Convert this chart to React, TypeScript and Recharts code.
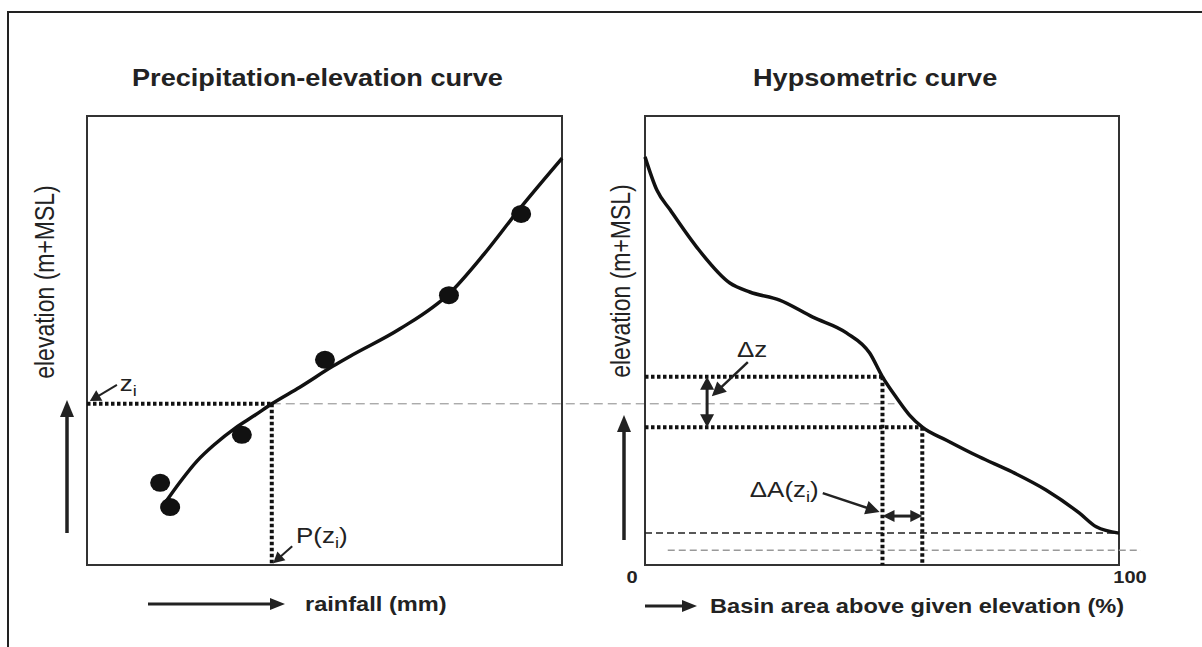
import React from "react";
import {
  ComposedChart,
  Line,
  Scatter,
  XAxis,
  YAxis,
  ReferenceLine,
  ReferenceDot,
  ReferenceArea,
} from "recharts";

const W = 1202;
const H = 647;
const SX = 1.18; // the source picture is stretched sideways
const FONT = '"Liberation Sans", Arial, sans-serif';
const INK = "#222";

// precipitation-elevation curve (both axes in % of the box)
const rainCurveX = [16.4, 19.6, 23.2, 26.9, 31.2, 35.4, 38.9, 44.8, 51.8, 55.4, 65.9, 76.4, 83.4, 91.2, 100];
const rainCurveY = [13.8, 18.5, 23.2, 26.9, 30.5, 33.4, 35.9, 39.6, 44.3, 46.5, 52.6, 60.6, 69.0, 79.5, 90.6];
const gaugeX = [15.4, 17.5, 32.6, 50.1, 76.2, 91.4];
const gaugeY = [18.3, 12.9, 29.0, 45.7, 60.1, 78.2];
const zi = 35.9;
const pzi = 38.9;

// hypsometric curve
const hypsoArea = [0, 2.5, 5.3, 10.9, 17.9, 22.1, 28.4, 35.4, 42.5, 47.4, 50.1, 53.1, 55.8, 58.5, 63.6, 70.5, 77.5, 84.6, 91.6, 95.2, 100];
const hypsoElev = [90.9, 83.5, 79.1, 70.8, 62.8, 60.8, 59.0, 55.2, 51.7, 47.2, 41.9, 37.2, 33.4, 30.7, 27.8, 24.1, 20.7, 16.7, 11.6, 8.5, 7.1];
const zTop = 41.9;
const zBot = 30.7;
const aTop = 50.1;
const aBot = 58.5;
const elevMin = 7.1;
const lowLine = 3.3;
const areaTicks = [0, 100];

const rainCurve = rainCurveX.map((x, i) => ({ x, y: rainCurveY[i] }));
const gauges = gaugeX.map((x, i) => ({ x, y: gaugeY[i] }));
const hypso = hypsoArea.map((x, i) => ({ x, y: hypsoElev[i] }));

function head(tx: number, ty: number, ang: number, len: number, half: number) {
  const bx = tx - len * Math.cos(ang);
  const by = ty - len * Math.sin(ang);
  const nx = -Math.sin(ang) * half;
  const ny = Math.cos(ang) * half;
  return `${tx},${ty} ${bx + nx},${by + ny} ${bx - nx},${by - ny}`;
}

function Arrow({ x1, y1, x2, y2, both = false, len = 12, half = 6, width = 2.5 }: any) {
  const ang = Math.atan2(y2 - y1, x2 - x1);
  const c = Math.cos(ang) * len * 0.7;
  const s = Math.sin(ang) * len * 0.7;
  return (
    <g>
      <line
        x1={both ? x1 + c : x1}
        y1={both ? y1 + s : y1}
        x2={x2 - c}
        y2={y2 - s}
        stroke={INK}
        strokeWidth={width}
      />
      <polygon points={head(x2, y2, ang, len, half)} fill={INK} />
      {both && <polygon points={head(x1, y1, ang + Math.PI, len, half)} fill={INK} />}
    </g>
  );
}

const arrowShape = (opts: any) => (p: any) => (
  <Arrow x1={p.x1} y1={p.y1} x2={p.x2} y2={p.y2} {...opts} />
);

const note = (main: string, sub?: string, tail?: string, size = 22) => (p: any) => (
  <text
    transform={`translate(${p.cx},${p.cy}) scale(${SX},1)`}
    fontSize={size}
    fontFamily={FONT}
    fill={INK}
  >
    {main}
    {sub && (
      <tspan dy={5} fontSize={size * 0.7}>
        {sub}
      </tspan>
    )}
    {tail && <tspan dy={-5}>{tail}</tspan>}
  </text>
);

const gaugeDot = (p: any) => <ellipse cx={p.cx} cy={p.cy} rx={10} ry={9} fill="#111" />;

const elevLabel = (tx: number, ty: number, ax: number, ay1: number, ay2: number) => (p: any) => {
  const vb = p.viewBox;
  const right = vb.x + vb.width;
  return (
    <g>
      <text
        transform={`translate(${right + tx},${vb.y + ty}) rotate(-90) scale(1,${SX})`}
        textAnchor="middle"
        fontSize={23}
        fontFamily={FONT}
        fill={INK}
      >
        elevation (m+MSL)
      </text>
      <Arrow x1={right + ax} y1={vb.y + ay1} x2={right + ax} y2={vb.y + ay2} len={17} half={7} width={3.5} />
    </g>
  );
};

const xLabel = (text: string, a1: number, a2: number, tx: number, dy: number) => (p: any) => {
  const vb = p.viewBox;
  return (
    <g>
      <Arrow x1={vb.x + a1} y1={vb.y + dy} x2={vb.x + a2} y2={vb.y + dy} len={15} half={6} width={3} />
      <text
        transform={`translate(${vb.x + tx},${vb.y + dy + 7}) scale(${SX},1)`}
        fontSize={20}
        fontWeight="bold"
        fontFamily={FONT}
        fill={INK}
      >
        {text}
      </text>
    </g>
  );
};

const AreaTick = (p: any) => (
  <text
    transform={`translate(${p.x + (p.payload.value === 0 ? -13 : 11)},${p.y + 18}) scale(${SX},1)`}
    textAnchor="middle"
    fontSize={17}
    fontWeight="bold"
    fontFamily={FONT}
    fill={INK}
  >
    {p.payload.value}
  </text>
);

const dotted = { stroke: "#111", strokeWidth: 4, strokeDasharray: "3.5 2.5", ifOverflow: "visible" as const };

export default function App() {
  return (
    <div style={{ position: "absolute", left: 0, top: 0, width: W, height: H, background: "#fff", overflow: "hidden" }}>
      <svg width={W} height={H} style={{ position: "absolute", left: 0, top: 0 }}>
        <rect x={8} y={12} width={1400} height={900} fill="none" stroke={INK} strokeWidth={2} />
        <text transform={`translate(132,86) scale(${SX},1)`} fontSize={23} fontWeight="bold" fontFamily={FONT} fill={INK}>
          Precipitation-elevation curve
        </text>
        <text transform={`translate(753,86) scale(${SX},1)`} fontSize={23} fontWeight="bold" fontFamily={FONT} fill={INK}>
          Hypsometric curve
        </text>
      </svg>

      <div style={{ position: "absolute", left: 0, top: 0 }}>
        <ComposedChart width={W} height={H} margin={{ top: 116, right: 640, bottom: 0, left: 0 }}>
          <XAxis dataKey="x" type="number" domain={[0, 100]} tick={false} tickLine={false} axisLine={false} height={82}
            label={xLabel("rainfall (mm)", 61, 198, 218, 39)} />
          <YAxis dataKey="y" type="number" domain={[0, 100]} tick={false} tickLine={false} axisLine={false} width={87}
            label={elevLabel(-33, 166, -20, 417, 284)} />
          <ReferenceArea x1={0} x2={100} y1={0} y2={100} fill="none" stroke="#333" strokeWidth={2} ifOverflow="visible" />
          <ReferenceLine segment={[{ x: pzi, y: zi }, { x: 170, y: zi }]} stroke="#888" strokeWidth={1} strokeDasharray="9 5" ifOverflow="visible" />
          <ReferenceLine segment={[{ x: 0, y: zi }, { x: pzi, y: zi }]} {...dotted} />
          <ReferenceLine segment={[{ x: pzi, y: zi }, { x: pzi, y: 0 }]} {...dotted} />
          <ReferenceLine segment={[{ x: 6.3, y: 40.1 }, { x: 0.6, y: 36.5 }]} shape={arrowShape({ len: 11, half: 6, width: 2 })} ifOverflow="visible" />
          <ReferenceLine segment={[{ x: 43.2, y: 4.2 }, { x: 39.2, y: 0.4 }]} shape={arrowShape({ len: 11, half: 6, width: 2 })} ifOverflow="visible" />
          <ReferenceDot x={6.9} y={38.8} r={0} shape={note("z", "i", undefined, 22)} ifOverflow="visible" />
          <ReferenceDot x={44.0} y={4.9} r={0} shape={note("P(z", "i", ")", 22)} ifOverflow="visible" />
          <Line data={rainCurve} dataKey="y" type="monotone" stroke="#111" strokeWidth={3.5} dot={false} isAnimationActive={false} />
          <Scatter data={gauges} shape={gaugeDot} isAnimationActive={false} />
        </ComposedChart>
      </div>

      <div style={{ position: "absolute", left: 0, top: 0 }}>
        <ComposedChart width={W} height={H} margin={{ top: 116, right: 83, bottom: 0, left: 0 }}>
          <XAxis dataKey="x" type="number" domain={[0, 100]} ticks={areaTicks} tick={AreaTick} tickLine={false} tickSize={0} tickMargin={0}
            axisLine={false} height={82} label={xLabel("Basin area above given elevation (%)", 0, 52, 65, 41)} />
          <YAxis dataKey="y" type="number" domain={[0, 100]} tick={false} tickLine={false} axisLine={false} width={645}
            label={elevLabel(-15, 165, -21, 424, 299)} />
          <ReferenceArea x1={0} x2={100} y1={0} y2={100} fill="none" stroke="#333" strokeWidth={2} ifOverflow="visible" />
          <ReferenceLine segment={[{ x: 0, y: elevMin }, { x: 100, y: elevMin }]} stroke={INK} strokeWidth={1.5} strokeDasharray="7 4" ifOverflow="visible" />
          <ReferenceLine segment={[{ x: 4.8, y: lowLine }, { x: 104.6, y: lowLine }]} stroke="#999" strokeWidth={1.5} strokeDasharray="7 4" ifOverflow="visible" />
          <ReferenceLine segment={[{ x: 0, y: zTop }, { x: aTop, y: zTop }]} {...dotted} />
          <ReferenceLine segment={[{ x: 0, y: zBot }, { x: aBot, y: zBot }]} {...dotted} />
          <ReferenceLine segment={[{ x: aTop, y: zTop }, { x: aTop, y: 0 }]} {...dotted} />
          <ReferenceLine segment={[{ x: aBot, y: zBot }, { x: aBot, y: 0 }]} {...dotted} />
          <ReferenceLine segment={[{ x: 13.1, y: zTop }, { x: 13.1, y: zBot }]} shape={arrowShape({ both: true, len: 13, half: 7, width: 3 })} ifOverflow="visible" />
          <ReferenceLine segment={[{ x: 21.7, y: 45.2 }, { x: 14.1, y: 37.6 }]} shape={arrowShape({ len: 14, half: 7, width: 2.5 })} ifOverflow="visible" />
          <ReferenceLine segment={[{ x: aTop, y: 10.9 }, { x: aBot, y: 10.9 }]} shape={arrowShape({ both: true, len: 12, half: 6, width: 3 })} ifOverflow="visible" />
          <ReferenceLine segment={[{ x: 37.5, y: 16.0 }, { x: 49.5, y: 11.8 }]} shape={arrowShape({ len: 14, half: 7, width: 2.5 })} ifOverflow="visible" />
          <ReferenceDot x={19.4} y={46.3} r={0} shape={note("Δz", undefined, undefined, 22)} ifOverflow="visible" />
          <ReferenceDot x={22.1} y={15.1} r={0} shape={note("ΔA(z", "i", ")", 22)} ifOverflow="visible" />
          <Line data={hypso} dataKey="y" type="monotone" stroke="#111" strokeWidth={3.5} dot={false} isAnimationActive={false} />
        </ComposedChart>
      </div>
    </div>
  );
}
